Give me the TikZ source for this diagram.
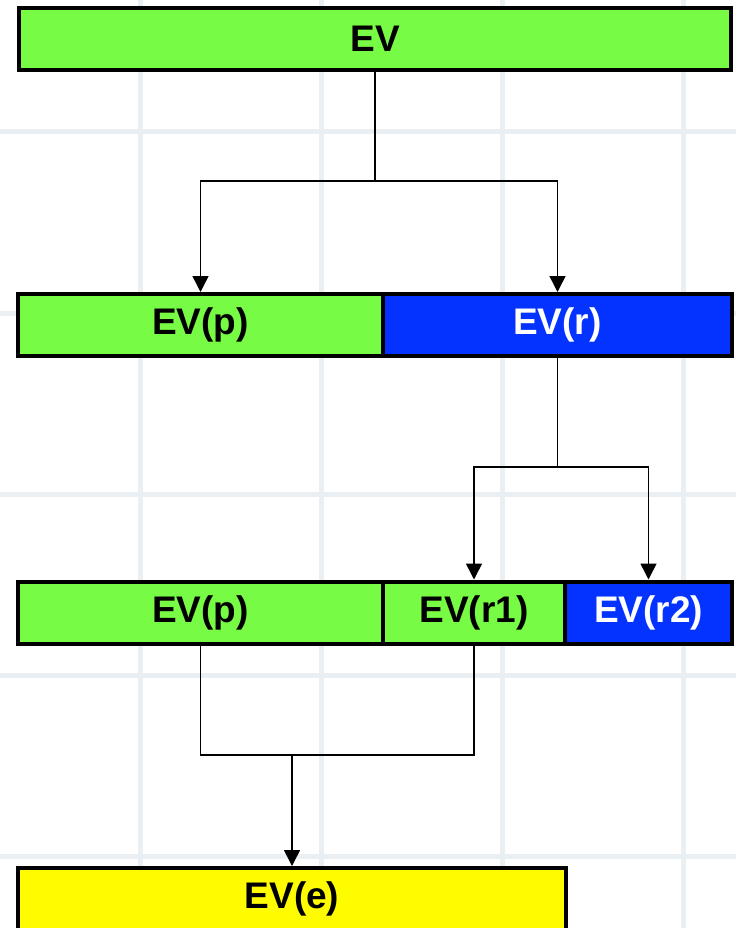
\documentclass[tikz,border=0pt]{standalone}
\usepackage{fontspec}
\setmainfont{Liberation Sans}
\usetikzlibrary{arrows.meta}
\definecolor{evgreen}{HTML}{77FB44}
\definecolor{evblue}{HTML}{0433FF}
\definecolor{evyellow}{HTML}{FFFC00}
\definecolor{gridline}{HTML}{EAEFF3}
\begin{document}
\begin{tikzpicture}[x=1pt,y=-1pt,
  evbox/.style={draw=black, line width=4pt, minimum height=62pt, inner sep=0pt,
    font=\fontsize{37}{37}\selectfont\bfseries, text=black},
  green/.style={evbox, fill=evgreen},
  blue/.style={evbox, fill=evblue, text=white},
  yellow/.style={evbox, fill=evyellow},
  conn/.style={line width=1.5pt, draw=black},
  arr/.style={conn, -{Triangle[length=16pt 0,width=16pt 0]}}]
\useasboundingbox (0,0) rectangle (736,928);
\fill[white] (0,0) rectangle (736,928);
% background grid
\foreach \gx in {140,321,502,683}
  \draw[gridline, line width=5pt] (\gx,0) -- (\gx,928);
\foreach \gy in {132,313,494,675,856}
  \draw[gridline, line width=5pt] (0,\gy) -- (736,\gy);

% row 1
\node[green, minimum width=712pt] (ev) at (375,39) {EV};
% row 2
\node[green, minimum width=365pt] (evp) at (200.5,325) {EV(p)};
\node[blue, minimum width=349pt] (evr) at (557.5,325) {EV(r)};
% row 3
\node[green, minimum width=365pt] (evp2) at (200.5,612.5) {EV(p)};
\node[green, minimum width=182pt] (evr1) at (474,612.5) {EV(r1)};
\node[blue, minimum width=167pt] (evr2) at (648.5,612.5) {EV(r2)};
% row 4
\node[yellow, minimum width=548pt] (eve) at (292,899) {EV(e)};

% connectors
\coordinate (j1) at (375,181);
\coordinate (j2) at (557.5,467);
\coordinate (j3) at (292,755);
\draw[conn] (ev.south) -- (j1);
\draw[arr] (j1) -| (evp.north);
\draw[arr] (j1) -| (evr.north);
\draw[conn] (evr.south) -- (j2);
\draw[arr] (j2) -| (evr1.north);
\draw[arr] (j2) -| (evr2.north);
\draw[conn] (evp2.south) |- (j3);
\draw[conn] (evr1.south) |- (j3);
\draw[arr] (j3) -- (eve.north);
\end{tikzpicture}
\end{document}
